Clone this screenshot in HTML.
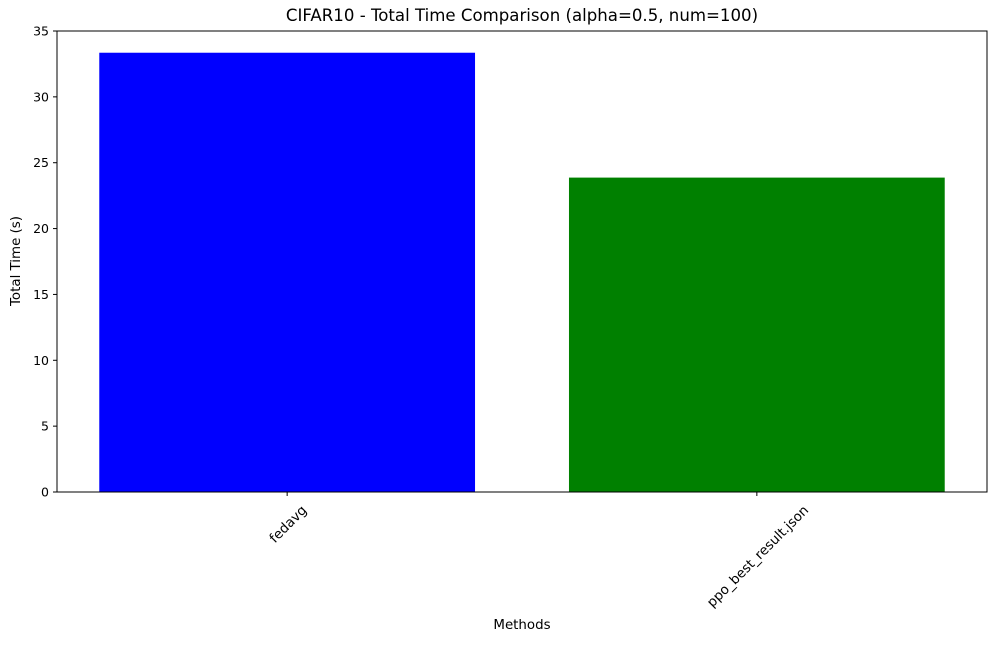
<!DOCTYPE html>
<html><head><meta charset="utf-8"><style>
body{margin:0;background:#fff;}
svg text{font-family:"DejaVu Sans","Liberation Sans",sans-serif;fill:#000;}
</style></head><body>
<svg id="chart" width="997" height="642" xmlns="http://www.w3.org/2000/svg">
<rect width="997" height="642" fill="#fff"/>
<text x="522" y="21" font-size="16.6" text-anchor="middle">CIFAR10 - Total Time Comparison (alpha=0.5, num=100)</text>
<text transform="translate(20,261) rotate(-90)" font-size="13.4" text-anchor="middle">Total Time (s)</text>
<text x="522" y="629" font-size="13.4" text-anchor="middle">Methods</text>
<g id="bars"></g><g id="yticks"></g><g id="xticks"></g>
<rect x="57" y="31" width="930" height="461" fill="none" stroke="#000" stroke-width="1"/>
</svg>
<script>
const categories=["fedavg","ppo_best_result.json"];
const values=[33.35,23.87];
const colors=["#0000ff","#008000"];
const yTicks=[0,5,10,15,20,25,30,35];
const L=57,R=987,T=31,B=492,yMax=35;
const xMin=-0.49,xMax=1.49;
function x(v){return L+(v-xMin)/(xMax-xMin)*(R-L);}
function y(v){return B-v/yMax*(B-T);}
const ns="http://www.w3.org/2000/svg";
const bars=document.getElementById('bars'),yt=document.getElementById('yticks'),xt=document.getElementById('xticks');
categories.forEach((c,i)=>{
 const r=document.createElementNS(ns,'rect');
 
 
 r.setAttribute('x',x(i-0.4));r.setAttribute('width',x(i+0.4)-x(i-0.4));
 r.setAttribute('y',y(values[i]));r.setAttribute('height',y(0)-y(values[i]));
 r.setAttribute('fill',colors[i]);bars.appendChild(r);
 const l=document.createElementNS(ns,'line');
 
 
 l.setAttribute('x1',x(i));l.setAttribute('x2',x(i));l.setAttribute('y1',B);l.setAttribute('y2',B+4);l.setAttribute('stroke','#000');xt.appendChild(l);
 const t=document.createElementNS(ns,'text');
 
 
 t.setAttribute('font-size','13.4');t.setAttribute('text-anchor','end');
 t.textContent=c;xt.appendChild(t);
 const w=t.getComputedTextLength()*0.7071;
 t.setAttribute('transform','translate('+(x(i)+w/2+4)+','+(B+19)+') rotate(-45)');
});
yTicks.forEach(v=>{
 const l=document.createElementNS(ns,'line');
 
 
 l.setAttribute('x1',L-4);l.setAttribute('x2',L);l.setAttribute('y1',y(v));l.setAttribute('y2',y(v));l.setAttribute('stroke','#000');yt.appendChild(l);
 const t=document.createElementNS(ns,'text');
 
 
 t.setAttribute('font-size','12.5');t.setAttribute('text-anchor','end');
 t.setAttribute('x',L-8);t.setAttribute('y',y(v)+4.5);t.textContent=v;yt.appendChild(t);
});
</script>
</body></html>
